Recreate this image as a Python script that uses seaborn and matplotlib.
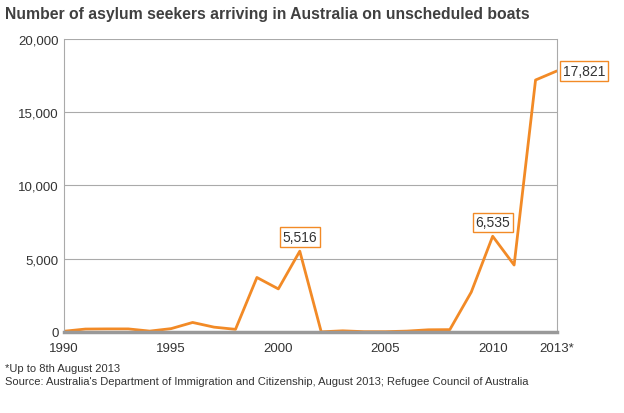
import numpy as np
import pandas as pd
import matplotlib
matplotlib.use('Agg')
import matplotlib.pyplot as plt
import seaborn as sns

# data
years = list(range(1990, 2014))
arrivals = [50, 200, 210, 210, 60, 230, 650, 330, 180, 3720, 2940, 5516,
            10, 80, 20, 20, 60, 150, 160, 2720, 6535, 4570, 17200, 17821]
tick_years = [1990, 1995, 2000, 2005, 2010, 2013]
tick_labels = ['1990', '1995', '2000', '2005', '2010', '2013*']
y_ticks = [0, 5000, 10000, 15000, 20000]
labelled_years = [2001, 2010, 2013]

df = pd.DataFrame({'year': years, 'arrivals': arrivals})

sns.set_style('white')
plt.rcParams['font.family'] = ['Liberation Sans', 'DejaVu Sans']

orange = '#F28A26'
grey = '#AAAAAA'
txt = '#333333'

fig = plt.figure(figsize=(6.24, 4.14), dpi=100)
ax = fig.add_axes([0.1026, 0.1957, 0.79, 0.7077])

sns.lineplot(data=df, x='year', y='arrivals', color=orange, linewidth=2, ax=ax)

ax.set_xlim(1990, 2013)
ax.set_ylim(0, 20000)
ax.set_yticks(y_ticks)
ax.set_yticklabels([f'{v:,}' for v in y_ticks], color=txt, fontsize=9.5)
ax.set_xticks(tick_years)
ax.set_xticklabels(tick_labels, color=txt, fontsize=9.5)
ax.set_xticks(years, minor=True)
ax.tick_params(axis='x', which='both', direction='out', length=5, width=1,
               color=grey, pad=2)
ax.tick_params(axis='y', length=0, pad=4)
ax.set_xlabel('')
ax.set_ylabel('')

ax.yaxis.grid(True, color=grey, linewidth=0.8)
ax.set_axisbelow(True)
ax.spines['top'].set_visible(False)
for side in ['left', 'right']:
    ax.spines[side].set_color(grey)
    ax.spines[side].set_linewidth(0.8)
ax.spines['bottom'].set_color('#999999')
ax.spines['bottom'].set_linewidth(2.5)

box = dict(boxstyle='square,pad=0.2', fc='white', ec=orange, lw=1)
for yr in labelled_years:
    v = arrivals[years.index(yr)]
    if yr == 2013:
        ax.annotate(f'{v:,}', (yr, v), xytext=(4, 0), textcoords='offset points',
                    ha='left', va='center', fontsize=10, color=txt, bbox=box,
                    annotation_clip=False)
    else:
        ax.annotate(f'{v:,}', (yr, v), xytext=(0, 5), textcoords='offset points',
                    ha='center', va='bottom', fontsize=10, color=txt, bbox=box)

fig.text(0.008, 0.965, 'Number of asylum seekers arriving in Australia on unscheduled boats',
         fontsize=11.3, fontweight='bold', color='#404040', va='center')
fig.text(0.008, 0.108, '*Up to 8th August 2013', fontsize=8, color=txt, va='center')
fig.text(0.008, 0.078, "Source: Australia's Department of Immigration and Citizenship, August 2013; Refugee Council of Australia",
         fontsize=8, color=txt, va='center')

fig.savefig('out.png', dpi=100, facecolor='white')
